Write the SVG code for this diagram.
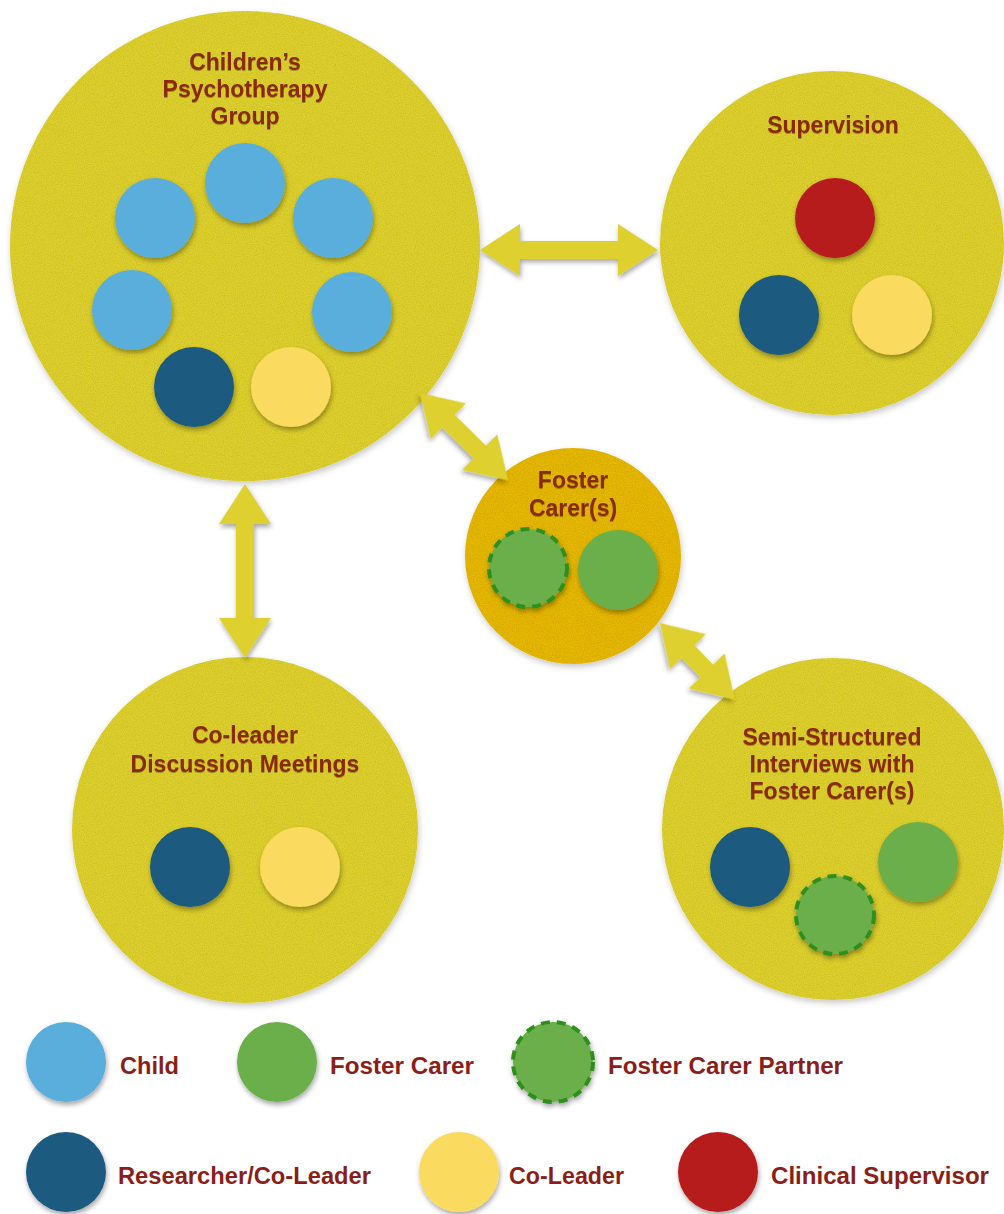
<svg xmlns="http://www.w3.org/2000/svg" width="1004" height="1214" viewBox="0 0 1004 1214">
<defs>
<filter id="sh" x="-30%" y="-30%" width="160%" height="170%">
<feDropShadow dx="1" dy="3" stdDeviation="2.5" flood-color="#000" flood-opacity="0.35"/>
</filter>
<filter id="shb" x="-10%" y="-10%" width="120%" height="125%">
<feTurbulence type="fractalNoise" baseFrequency="0.9" numOctaves="2" seed="3" result="n"/>
<feColorMatrix in="n" type="matrix" values="0 0 0 0 0  0 0 0 0 0  0 0 0 0 0  0 0 0 0.35 -0.12" result="na"/>
<feComposite in="na" in2="SourceGraphic" operator="in" result="tex"/>
<feDropShadow in="SourceGraphic" dx="1" dy="3" stdDeviation="3" flood-color="#000" flood-opacity="0.22" result="ds"/>
<feMerge><feMergeNode in="ds"/><feMergeNode in="tex"/></feMerge>
</filter>
<filter id="ts" x="-5%" y="-20%" width="110%" height="150%">
<feDropShadow dx="0" dy="1" stdDeviation="0.6" flood-color="#000" flood-opacity="0.3"/>
</filter>
</defs>
<style>
.big{fill:#DED02F;filter:url(#shb)}
.fc{fill:#E6B80C;filter:url(#shb)}
.child{fill:#5AAEDC;filter:url(#sh)}
.res{fill:#1B5A80;filter:url(#sh)}
.co{fill:#FBDB5F;filter:url(#sh)}
.sup{fill:#B71A1A;filter:url(#sh)}
.fcr{fill:#6BAF48;filter:url(#sh)}
.fcp{fill:#6BAF48;stroke:#2F8F1F;stroke-width:4;stroke-dasharray:9 7;filter:url(#sh)}
.t{font-family:"Liberation Sans",Arial,sans-serif;font-weight:bold;font-size:23px;fill:#8A2A10;text-anchor:middle;filter:url(#ts)}
.lt{font-family:"Liberation Sans",Arial,sans-serif;font-weight:bold;font-size:23px;fill:#8A1E18}
.arr{fill:#DED02F;filter:url(#sh)}
</style>
<rect width="1004" height="1214" fill="#ffffff"/>

<g id="node-group">
<circle class="big" cx="245" cy="246" r="235"/>
<text class="t" x="245" y="70">Children’s</text>
<text class="t" x="245" y="97">Psychotherapy</text>
<text class="t" x="245" y="124">Group</text>
<circle class="child" cx="245" cy="183" r="40"/>
<circle class="child" cx="155" cy="218" r="40"/>
<circle class="child" cx="333" cy="218" r="40"/>
<circle class="child" cx="132" cy="310" r="40"/>
<circle class="child" cx="352" cy="312" r="40"/>
<circle class="res" cx="194" cy="387" r="40"/>
<circle class="co" cx="291" cy="387" r="40"/>
</g>

<g id="node-supervision">
<circle class="big" cx="832" cy="243" r="172"/>
<text class="t" x="833" y="133">Supervision</text>
<circle class="sup" cx="835" cy="218" r="40"/>
<circle class="res" cx="779" cy="315" r="40"/>
<circle class="co" cx="892" cy="315" r="40"/>
</g>

<g id="node-foster">
<circle class="fc" cx="573" cy="556" r="108"/>
<text class="t" x="573" y="488">Foster</text>
<text class="t" x="573" y="516">Carer(s)</text>
<circle class="fcp" cx="528" cy="568" r="39"/>
<circle class="fcr" cx="618" cy="570" r="40"/>
</g>

<g id="node-coleader">
<circle class="big" cx="245" cy="830" r="173"/>
<text class="t" x="245" y="743">Co-leader</text>
<text class="t" x="245" y="772">Discussion Meetings</text>
<circle class="res" cx="190" cy="867" r="40"/>
<circle class="co" cx="300" cy="867" r="40"/>
</g>

<g id="node-interviews">
<circle class="big" cx="833" cy="829" r="171"/>
<text class="t" x="832" y="745">Semi-Structured</text>
<text class="t" x="832" y="772">Interviews with</text>
<text class="t" x="832" y="799">Foster Carer(s)</text>
<circle class="res" cx="750" cy="867" r="40"/>
<circle class="fcr" cx="918" cy="862" r="40"/>
<circle class="fcp" cx="835" cy="915" r="39"/>
</g>

<g id="connectors">
<polygon class="arr" points="480,250 520,224 520,241 618,241 618,224 658,250 618,276 618,259 520,259 520,276"/>
<polygon class="arr" points="245,484 271,524 254,524 254,618 271,618 245,658 219,618 236,618 236,524 219,524"/>
<polygon class="arr" transform="translate(420,393) rotate(44.7)" points="0,0 40,-25 40,-9 84,-9 84,-25 124,0 84,25 84,9 40,9 40,25"/>
<polygon class="arr" transform="translate(660,623) rotate(45.7)" points="0,0 40,-25 40,-9 67,-9 67,-25 107,0 67,25 67,9 40,9 40,25"/>
</g>

<g id="legend">
<g id="legend-child"><circle class="child" cx="66" cy="1062" r="40"/><text class="lt" x="120" y="1074" textLength="59" lengthAdjust="spacingAndGlyphs">Child</text></g>
<g id="legend-fostercarer"><circle class="fcr" cx="277" cy="1062" r="40"/><text class="lt" x="330" y="1074" textLength="144" lengthAdjust="spacingAndGlyphs">Foster Carer</text></g>
<g id="legend-partner"><circle class="fcp" cx="553" cy="1062" r="40"/><text class="lt" x="608" y="1074" textLength="235" lengthAdjust="spacingAndGlyphs">Foster Carer Partner</text></g>
<g id="legend-researcher"><circle class="res" cx="66" cy="1172" r="40"/><text class="lt" x="118" y="1184" textLength="253" lengthAdjust="spacingAndGlyphs">Researcher/Co-Leader</text></g>
<g id="legend-coleader"><circle class="co" cx="459" cy="1172" r="40"/><text class="lt" x="509" y="1184" textLength="115" lengthAdjust="spacingAndGlyphs">Co-Leader</text></g>
<g id="legend-supervisor"><circle class="sup" cx="718" cy="1172" r="40"/><text class="lt" x="771" y="1184" textLength="218" lengthAdjust="spacingAndGlyphs">Clinical Supervisor</text></g>
</g>
</svg>
